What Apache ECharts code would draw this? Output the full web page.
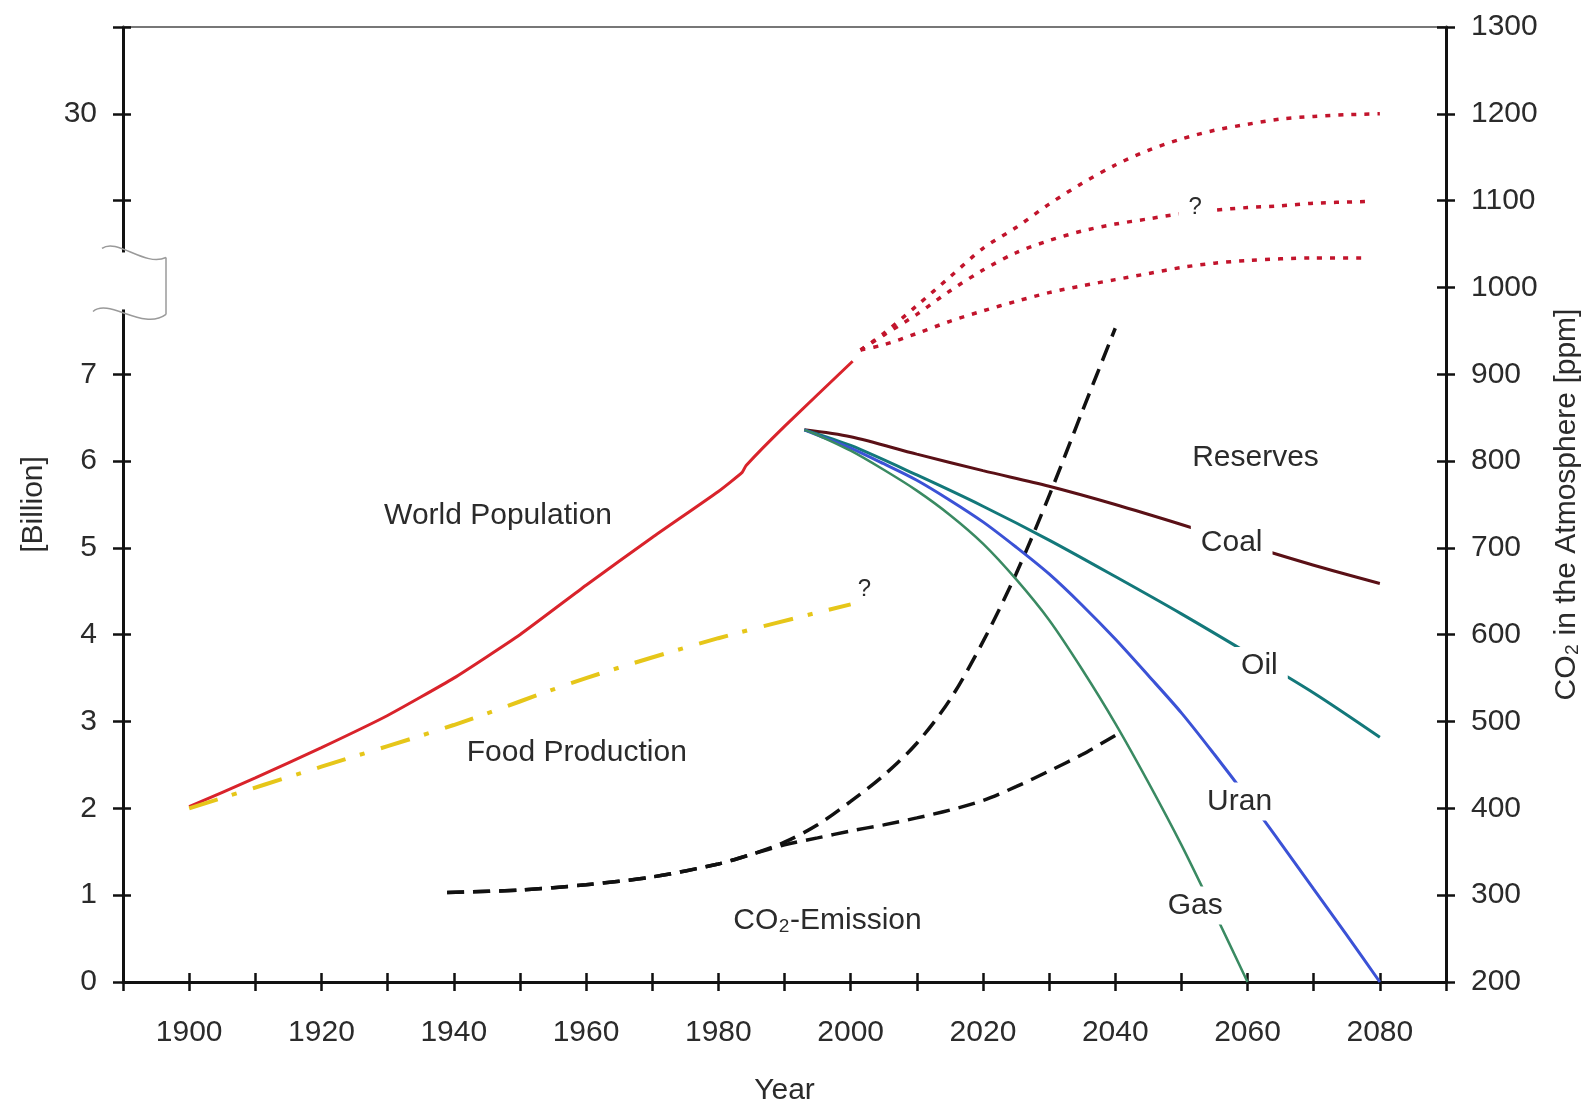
<!DOCTYPE html>
<html>
<head>
<meta charset="utf-8">
<title>World Population, Food Production, Reserves and CO2</title>
<script src="https://cdn.jsdelivr.net/npm/echarts@6.0.0/dist/echarts.min.js"></script>
<style>
  html, body { margin: 0; padding: 0; background: #fff; }
  #chart { width: 1590px; height: 1111px; }
</style>
</head>
<body>
<div id="chart"></div>
<script>
// World population [billion]
const popYears = [1900, 1910, 1920, 1930, 1940, 1950, 1960, 1970, 1980, 1983.6, 1984.2, 1990, 2000.3]
const popValues = [2.02, 2.35, 2.7, 3.07, 3.5, 4.0, 4.57, 5.12, 5.65, 5.87, 5.95, 6.4, 7.15]

// Food production [billion]
const foodYears = [1900, 1920, 1940, 1960, 1980, 2000]
const foodValues = [2.0, 2.48, 2.96, 3.5, 3.96, 4.35]

// dotted scenarios after 2000 (drawn against the ppm scale)
const highYears = [2001.5, 2005, 2010, 2015, 2020, 2025, 2030, 2035, 2040, 2045, 2050, 2055, 2060, 2065, 2070, 2075, 2080]
const highValues = [928, 947, 979, 1012, 1045, 1069, 1096, 1120, 1141, 1158, 1171, 1181, 1188, 1194, 1197, 1199, 1200]
const midYears = [2001.5, 2005, 2010, 2015, 2020, 2025, 2030, 2035, 2040, 2045, 2050, 2055, 2060, 2065, 2070, 2078]
const midValues = [928, 945, 969, 996, 1020, 1040, 1054, 1065, 1073, 1079, 1085, 1089, 1092, 1094, 1097, 1099]
const lowYears = [2001.5, 2005, 2010, 2015, 2020, 2025, 2030, 2035, 2040, 2045, 2050, 2055, 2060, 2070, 2078]
const lowValues = [928, 934, 947, 961, 973, 984, 994, 1002, 1009, 1016, 1023, 1028, 1031, 1034, 1034]

// CO2 emission [ppm]
const co2HighYears = [1939, 1950, 1960, 1970, 1980, 1985, 1990, 1995, 2000, 2005, 2010, 2015, 2020, 2025, 2030, 2035, 2040]
const co2HighValues = [303, 306, 312, 321, 336, 347, 361, 381, 408, 438, 475, 525, 592, 670, 760, 857, 953]
const co2LowYears = [1939, 1950, 1960, 1970, 1980, 1985, 1990, 1995, 2000, 2005, 2010, 2015, 2020, 2025, 2030, 2035, 2040]
const co2LowValues = [303, 306, 312, 321, 336, 347, 358, 366, 374, 381, 389, 398, 409, 425, 443, 462, 484]

// Reserves
const coalYears = [1993, 2000, 2010, 2020, 2030, 2040, 2050, 2060, 2070, 2080]
const coalValues = [6.36, 6.28, 6.08, 5.89, 5.71, 5.5, 5.27, 5.03, 4.8, 4.59]
const oilYears = [1993, 2000, 2010, 2020, 2030, 2040, 2050, 2060, 2070, 2080]
const oilValues = [6.36, 6.18, 5.84, 5.48, 5.09, 4.67, 4.24, 3.79, 3.33, 2.82]
const uranYears = [1993, 1995, 2000, 2005, 2010, 2015, 2020, 2025, 2030, 2035, 2040, 2045, 2050, 2055, 2060, 2065, 2070, 2075, 2080]
const uranValues = [6.36, 6.3, 6.15, 5.97, 5.78, 5.55, 5.3, 5.01, 4.7, 4.34, 3.95, 3.53, 3.1, 2.62, 2.12, 1.6, 1.07, 0.54, 0]
const gasYears = [1993, 1995, 2000, 2005, 2010, 2015, 2020, 2025, 2030, 2035, 2040, 2045, 2050, 2055, 2060]
const gasValues = [6.36, 6.3, 6.12, 5.9, 5.66, 5.38, 5.05, 4.64, 4.17, 3.6, 2.98, 2.3, 1.58, 0.8, 0]

// text annotations inside the plot (year, billion scale)
const labelTexts = ['World Population', 'Food Production', 'CO₂-Emission', 'Reserves', 'Coal', 'Oil', 'Uran', 'Gas', '?', '?']
const labelYears = [1946.7, 1958.6, 1996.5, 2061.2, 2057.6, 2061.8, 2058.8, 2052.1, 2002.1, 2052.1]
const labelValues = [5.37, 2.64, 0.71, 6.04, 5.06, 3.64, 2.08, 0.88, 4.52, 8.92]
const labelBoxed = [false, false, false, false, true, true, true, true, false, true]

// axis ticks and labels
const yearLabels = [1900, 1920, 1940, 1960, 1980, 2000, 2020, 2040, 2060, 2080]
const billionTicks = [0, 1, 2, 3, 4, 5, 6, 7, 9, 10, 11]
const billionLabels = [0, 1, 2, 3, 4, 5, 6, 7, 10]

const FONT = "'Liberation Sans', Arial, sans-serif"
const TXT = '#2b2b2b'
const AXIS = '#111'

const pairs = (xs, ys) => xs.map((x, i) => [x, ys[i]])

const line = (name, xs, ys, color, width, type, yAxisIndex, smooth = 0.3) => ({
  name,
  type: 'line',
  yAxisIndex,
  data: pairs(xs, ys),
  smooth,
  symbol: 'none',
  z: 3,
  lineStyle: { color, width, type, cap: 'butt' }
})

const chart = echarts.init(document.getElementById('chart'))

const tickStyle = { color: AXIS, width: 2.5 }

const option = {
  animation: false,
  backgroundColor: '#fff',
  textStyle: { fontFamily: FONT },
  grid: { left: 123, right: 143, top: 27, bottom: 128 },
  xAxis: [
    {
      type: 'value',
      position: 'bottom',
      min: 1890,
      max: 2090,
      interval: 10,
      name: 'Year',
      nameLocation: 'middle',
      nameGap: 94,
      nameTextStyle: { fontSize: 30, color: TXT, fontFamily: FONT },
      axisLine: { show: true, lineStyle: { color: AXIS, width: 3 } },
      axisTick: { show: true, length: 9, lineStyle: tickStyle },
      axisLabel: {
        customValues: yearLabels,
        formatter: v => String(v),
        fontSize: 30,
        color: TXT,
        margin: 36,
        fontFamily: FONT
      },
      splitLine: { show: false }
    },
    {
      // inner half of the crossing ticks
      type: 'value',
      position: 'bottom',
      min: 1890,
      max: 2090,
      interval: 10,
      axisLine: { show: false },
      axisTick: { show: true, inside: true, length: 9, lineStyle: tickStyle },
      axisLabel: { show: false },
      splitLine: { show: false }
    },
    {
      // thin frame line on top
      type: 'value',
      position: 'top',
      min: 1890,
      max: 2090,
      axisLine: { show: true, lineStyle: { color: '#777', width: 2 } },
      axisTick: { show: false },
      axisLabel: { show: false },
      splitLine: { show: false }
    }
  ],
  yAxis: [
    {
      type: 'value',
      position: 'left',
      min: 0,
      max: 11,
      interval: 1,
      name: '[Billion]',
      nameLocation: 'middle',
      nameRotate: 90,
      nameGap: 74,
      nameTextStyle: { fontSize: 30, color: TXT, fontFamily: FONT },
      axisLine: { show: true, lineStyle: { color: AXIS, width: 3 } },
      axisTick: { show: true, length: 10, customValues: billionTicks, lineStyle: tickStyle },
      axisLabel: {
        customValues: billionLabels,
        formatter: v => (v === 10 ? '30' : String(v)),
        fontSize: 30,
        color: TXT,
        margin: 26,
        fontFamily: FONT
      },
      splitLine: { show: false }
    },
    {
      type: 'value',
      position: 'left',
      min: 0,
      max: 11,
      interval: 1,
      axisLine: { show: false },
      axisTick: { show: true, inside: true, length: 8, customValues: billionTicks, lineStyle: tickStyle },
      axisLabel: { show: false },
      splitLine: { show: false }
    },
    {
      type: 'value',
      position: 'right',
      min: 200,
      max: 1300,
      interval: 100,
      name: 'CO₂ in the Atmosphere [ppm]',
      nameLocation: 'middle',
      nameRotate: 90,
      nameGap: 106,
      nameTextStyle: { fontSize: 30, color: TXT, fontFamily: FONT },
      axisLine: { show: true, lineStyle: { color: AXIS, width: 3 } },
      axisTick: { show: true, length: 9, lineStyle: tickStyle },
      axisLabel: { formatter: v => String(v), fontSize: 30, color: TXT, margin: 25, fontFamily: FONT },
      splitLine: { show: false }
    },
    {
      type: 'value',
      position: 'right',
      min: 200,
      max: 1300,
      interval: 100,
      axisLine: { show: false },
      axisTick: { show: true, inside: true, length: 9, lineStyle: tickStyle },
      axisLabel: { show: false },
      splitLine: { show: false }
    }
  ],
  series: [
    line('World Population', popYears, popValues, '#d9232b', 3, 'solid', 0, 0.15),
    line('Food Production', foodYears, foodValues, '#e6c619', 4, [30, 15, 5, 17], 0),
    line('Scenario high', highYears, highValues, '#c2142c', 3.5, [5, 8], 2),
    line('Scenario mid', midYears, midValues, '#c2142c', 3.5, [5, 8], 2),
    line('Scenario low', lowYears, lowValues, '#c2142c', 3.5, [5, 8], 2),
    line('CO2 high', co2HighYears, co2HighValues, '#111', 3.5, [17, 9], 2),
    line('CO2 low', co2LowYears, co2LowValues, '#111', 3.5, [17, 9], 2),
    line('Coal', coalYears, coalValues, '#5a1016', 3, 'solid', 0),
    line('Oil', oilYears, oilValues, '#13787a', 3, 'solid', 0),
    line('Uran', uranYears, uranValues, '#3b52d6', 3, 'solid', 0),
    line('Gas', gasYears, gasValues, '#3a8a62', 2.5, 'solid', 0),
    {
      name: 'labels',
      type: 'scatter',
      yAxisIndex: 0,
      symbolSize: 1,
      itemStyle: { color: 'rgba(0,0,0,0)', opacity: 1 },
      z: 10,
      silent: true,
      data: labelTexts.map((t, i) => ({
        value: [labelYears[i], labelValues[i]],
        label: {
          show: true,
          position: 'inside',
          formatter: t,
          fontSize: t === '?' ? 24 : 30,
          color: TXT,
          fontFamily: FONT,
          backgroundColor: labelBoxed[i] ? '#fff' : 'transparent',
          padding: labelBoxed[i] ? [4, 10] : 0
        }
      }))
    }
  ]
}

chart.setOption(option)

// axis break mark on the left axis, placed from the axis scale
const ax = chart.convertToPixel({ xAxisIndex: 0 }, 1890)
const yb = chart.convertToPixel({ yAxisIndex: 0 }, 8)
const breakStroke = { stroke: '#9a9a9a', lineWidth: 1.5, fill: null }

chart.setOption({
  graphic: [
    { type: 'rect', z: 100, shape: { x: ax - 5, y: yb - 35, width: 10, height: 57 }, style: { fill: '#fff' } },
    {
      type: 'bezierCurve', z: 101,
      shape: { x1: ax - 21, y1: yb - 39, cpx1: ax - 6, cpy1: yb - 50, cpx2: ax + 22, cpy2: yb - 20, x2: ax + 43, y2: yb - 30 },
      style: breakStroke
    },
    {
      type: 'bezierCurve', z: 101,
      shape: { x1: ax - 30, y1: yb + 24, cpx1: ax - 14, cpy1: yb + 10, cpx2: ax + 20, cpy2: yb + 44, x2: ax + 43, y2: yb + 27 },
      style: breakStroke
    },
    {
      type: 'line', z: 101,
      shape: { x1: ax + 43, y1: yb - 30, x2: ax + 43, y2: yb + 27 },
      style: breakStroke
    }
  ]
})
</script>
</body>
</html>
